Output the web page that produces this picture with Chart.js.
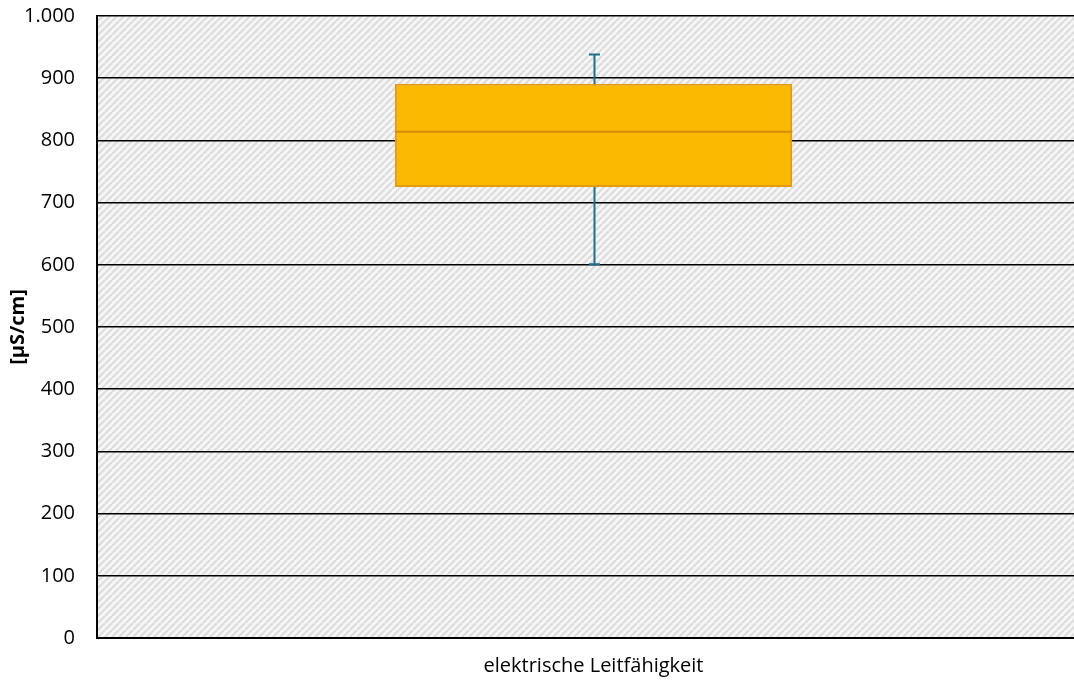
<!DOCTYPE html>
<html>
<head>
<meta charset="utf-8">
<script src="https://cdn.jsdelivr.net/npm/chart.js@4"></script>
<style>
  html, body { margin: 0; padding: 0; background: #fff; overflow: hidden; }
  #wrap { width: 1090px; height: 684px; }
</style>
</head>
<body>
<div id="wrap"><canvas id="chart"></canvas></div>
<script>
// ─── Data ─────────────────────────────────────────────────────────────────────
const categories = ["elektrische Leitfähigkeit"];
const whiskerMin = [601];
const quartile1  = [725];
const median     = [814];
const quartile3  = [891];
const whiskerMax = [938];
const yTicks     = [0, 100, 200, 300, 400, 500, 600, 700, 800, 900, 1000];

const BOX_FILL   = "#fbba00";
const BOX_EDGE   = "#e59a12";
const MEDIAN_COL = "#d88a0c";
const WHISK_COL  = "#1f6e8c";

// ─── Hatched plot background ─────────────────────────────────────────────────
function makeHatch(ctx) {
  const c = document.createElement("canvas");
  c.width = 7; c.height = 7;
  const g = c.getContext("2d");
  g.fillStyle = "#f6f6f6";
  g.fillRect(0, 0, 7, 7);
  g.strokeStyle = "#dcdcdc";
  g.lineWidth = 2.2;
  for (let k = -7; k <= 14; k += 7) {
    g.beginPath();
    g.moveTo(k, 7);
    g.lineTo(k + 7, 0);
    g.stroke();
  }
  return ctx.createPattern(c, "repeat");
}

const plotBg = {
  id: "plotBg",
  beforeDraw(chart) {
    const { ctx, chartArea: a } = chart;
    ctx.save();
    ctx.fillStyle = makeHatch(ctx);
    ctx.fillRect(a.left, a.top, a.right - a.left, a.bottom - a.top);
    ctx.restore();
  }
};

// whiskers + caps + median, positioned through the chart scales
const boxExtras = {
  id: "boxExtras",
  beforeDatasetsDraw(chart) {
    const { ctx, scales: { x, y } } = chart;
    ctx.save();
    categories.forEach((c, i) => {
      const cx = Math.round(x.getPixelForValue(i)) + 0.5;
      const capW = 5.5;
      ctx.strokeStyle = WHISK_COL;
      ctx.lineWidth = 2;
      ctx.beginPath();
      ctx.moveTo(cx, y.getPixelForValue(whiskerMax[i]));
      ctx.lineTo(cx, y.getPixelForValue(whiskerMin[i]));
      ctx.stroke();
      ctx.beginPath();
      ctx.moveTo(cx - capW, y.getPixelForValue(whiskerMax[i]));
      ctx.lineTo(cx + capW, y.getPixelForValue(whiskerMax[i]));
      ctx.moveTo(cx - capW, y.getPixelForValue(whiskerMin[i]));
      ctx.lineTo(cx + capW, y.getPixelForValue(whiskerMin[i]));
      ctx.stroke();
    });
    ctx.restore();
  },
  afterDatasetsDraw(chart) {
    const { ctx, scales: { y } } = chart;
    const meta = chart.getDatasetMeta(0);
    ctx.save();
    meta.data.forEach((bar, i) => {
      const half = bar.width / 2;
      const my = y.getPixelForValue(median[i]);
      ctx.strokeStyle = MEDIAN_COL;
      ctx.lineWidth = 2;
      ctx.beginPath();
      ctx.moveTo(bar.x - half, my);
      ctx.lineTo(bar.x + half, my);
      ctx.stroke();
    });
    ctx.restore();
  }
};

const deFmt = (v) => v.toLocaleString("de-DE");

new Chart(document.getElementById("chart"), {
  type: "bar",
  data: {
    labels: categories,
    datasets: [{
      data: quartile1.map((q, i) => [q, quartile3[i]]),
      backgroundColor: BOX_FILL,
      borderColor: BOX_EDGE,
      borderWidth: 2,
      borderSkipped: false,
      categoryPercentage: 0.8,
      barPercentage: 0.5
    }]
  },
  options: {
    responsive: true,
    maintainAspectRatio: false,
    animation: false,
    layout: { padding: { top: 16, right: 0, bottom: 0, left: 0 } },
    plugins: { legend: { display: false }, tooltip: { enabled: false } },
    scales: {
      x: {
        afterFit: (s) => { s.height = 46; s.paddingLeft = 0; s.paddingRight = 0; },
        grid: { display: false, drawTicks: false },
        border: { display: true, color: "#000", width: 2 },
        ticks: {
          color: "#000", padding: 16,
          font: { family: "'Open Sans'", size: 20 }
        }
      },
      y: {
        min: 0, max: 1000,
        afterFit: (s) => { s.width = 97; s.paddingTop = 0; s.paddingBottom = 0; },
        afterBuildTicks: (s) => { s.ticks = yTicks.map(v => ({ value: v })); },
        grid: { color: "#000", lineWidth: 1.5, drawTicks: false },
        border: { display: true, color: "#000", width: 2 },
        ticks: {
          color: "#000", padding: 22,
          font: { family: "'Open Sans'", size: 20 },
          callback: (v) => deFmt(v)
        },
        title: {
          display: true, text: "[µS/cm]", color: "#000", padding: { top: 6, bottom: 6 },
          font: { family: "'Open Sans'", size: 20, weight: "bold" }
        }
      }
    }
  },
  plugins: [plotBg, boxExtras]
});
</script>
</body>
</html>
